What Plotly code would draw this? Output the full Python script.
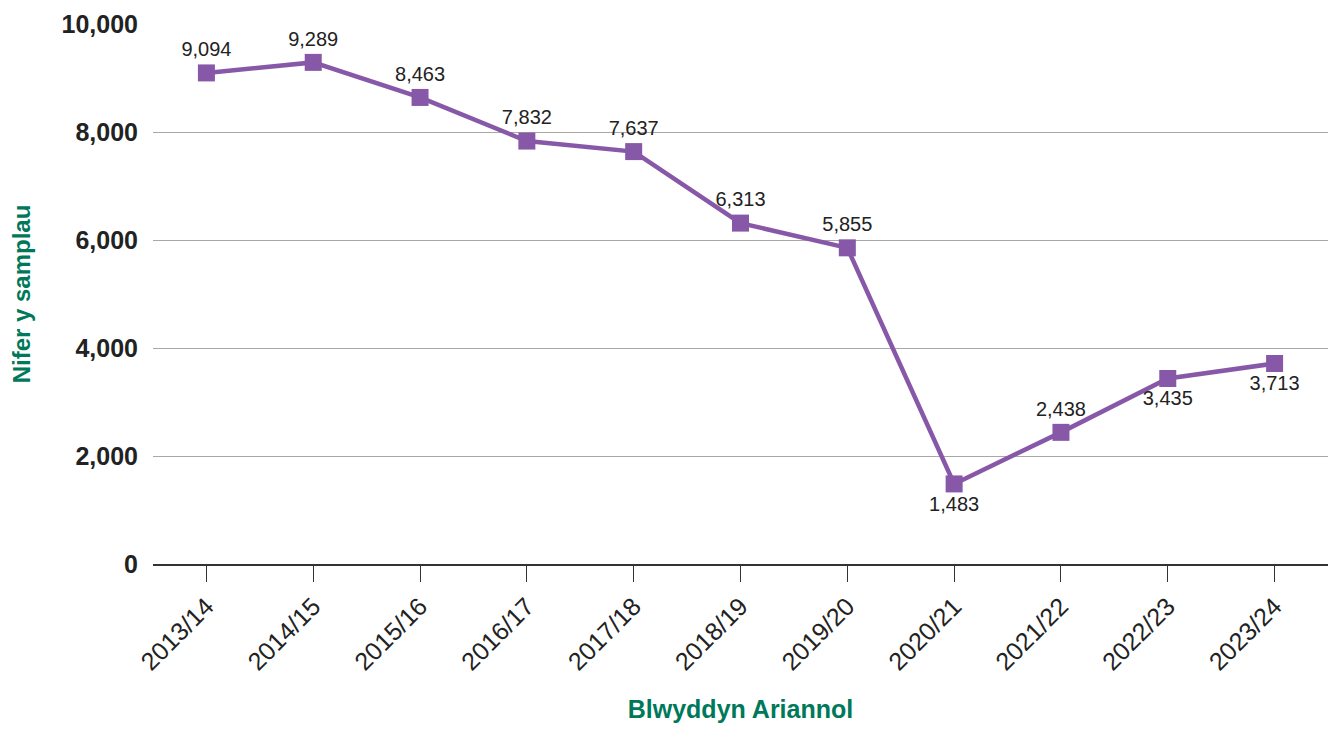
import plotly.graph_objects as go

years = ["2013/14", "2014/15", "2015/16", "2016/17", "2017/18", "2018/19",
         "2019/20", "2020/21", "2021/22", "2022/23", "2023/24"]
# marker heights as drawn in the picture
samples = [9094, 9289, 8640, 7832, 7637, 6313, 5855, 1483, 2438, 3435, 3713]
# printed labels
sample_labels = ["9,094", "9,289", "8,463", "7,832", "7,637", "6,313",
                 "5,855", "1,483", "2,438", "3,435", "3,713"]
label_pos = ["top center"] * 7 + ["bottom center", "top center",
                                  "bottom center", "bottom center"]
y_ticks = [0, 2000, 4000, 6000, 8000, 10000]
y_tick_text = ["0", "2,000", "4,000", "6,000", "8,000", "10,000"]

purple = "#8858A8"
green = "#00785A"
font_family = "Liberation Sans, Arial, Helvetica, sans-serif"

fig = go.Figure()
fig.add_trace(go.Scatter(
    x=years, y=samples, mode="lines+markers+text",
    line=dict(color=purple, width=4.5),
    marker=dict(symbol="square", size=17, color=purple),
    text=sample_labels, textposition=label_pos,
    textfont=dict(size=20, color="#222222", family=font_family),
    cliponaxis=False, showlegend=False,
))

fig.update_layout(
    width=1320, height=715,
    margin=dict(l=145, r=0, t=16, b=159),
    plot_bgcolor="white", paper_bgcolor="white",
    font=dict(family=font_family, color="#222222"),
)
fig.update_xaxes(
    type="category", range=[-0.5, 10.5], automargin=False,
    showgrid=False, showline=True, linecolor="#333333", linewidth=1.5,
    ticks="outside", ticklen=16, tickcolor="#333333", tickwidth=1.2,
    tickangle=-45, tickfont=dict(size=25, color="#222222"),
    title=dict(text="<b>Blwyddyn Ariannol</b>", font=dict(size=25, color=green),
               standoff=42),
)
fig.update_yaxes(
    range=[0, 10000], tickvals=y_ticks, ticktext=y_tick_text, automargin=False,
    showgrid=True, gridcolor="#A8A8A8", gridwidth=1.2,
    zeroline=False, showline=False, ticks="",
    ticklabelstandoff=14,
    tickfont=dict(size=25, color="#222222", weight="bold"),
    title=dict(text="<b>Nifer y samplau</b>", font=dict(size=24, color=green),
               standoff=34),
)

fig.write_html("out.html")
